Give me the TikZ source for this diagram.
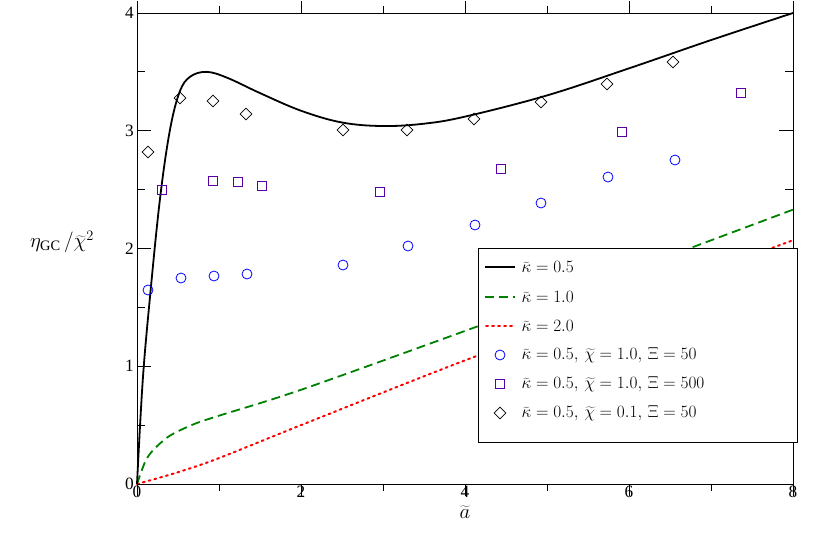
\documentclass[tikz,border=0pt]{standalone}
\usepackage{fontspec}
\setmainfont{Liberation Serif}
\usetikzlibrary{shapes.geometric}
\begin{document}
\begin{tikzpicture}[x=1pt,y=-1pt,every node/.style={font=\LARGE},
 circ/.style={draw=blue,thick,circle,inner sep=0pt,minimum size=10pt},
 sqr/.style={draw=violet!70!blue,thick,rectangle,inner sep=0pt,minimum size=9pt},
 dia/.style={draw=black,thick,diamond,inner sep=0pt,minimum size=12pt},
 lblack/.style={black,line width=1.8pt},
 lgreen/.style={green!50!black,line width=1.8pt,dash pattern=on 9pt off 5pt},
 lred/.style={red,line width=2pt,dash pattern=on 2pt off 4pt,line cap=round}]
\useasboundingbox (0,0) rectangle (830,536);
\begin{scope}[shift={(137,484)},xscale=82,yscale=-117.75]
 \draw[lred] plot[smooth] coordinates {(0,0)(0.5,0.1)(1,0.22)(2,0.5)(4,1.05)(6,1.56)(8,2.07)};
 \draw[lgreen] plot[smooth] coordinates {(0,0)(0.1,0.19)(0.2,0.29)(0.4,0.41)(0.7,0.51)(1,0.58)(2,0.8)(4,1.3)(6,1.81)(8,2.33)};
 \draw[lblack] plot[smooth,tension=0.6] coordinates {(0,0)(0.07,0.88)(0.16,1.6)(0.28,2.42)(0.4,3.0)(0.52,3.33)(0.65,3.46)(0.85,3.5)(1.1,3.45)(1.5,3.32)(2,3.17)(2.5,3.07)(3,3.04)(3.5,3.06)(4,3.12)(5,3.3)(6,3.53)(7,3.77)(8,4.0)};
 \foreach \i in {0,...,8}{\draw[thick] (\i,0) -- ++(0,-0.06); \draw[thick] (\i,4) -- ++(0,0.06);}
 \foreach \i in {0,2,...,8}{\draw[thick] (\i,0) -- ++(0,-0.1); \draw[thick] (\i,4) -- ++(0,0.1);
   \node[below,inner sep=2pt] at (\i,0) {\i};}
 \foreach \j in {0,0.5,...,4}{\draw[thick] (0,\j) -- ++(0.1,0); \draw[thick] (8,\j) -- ++(-0.1,0);}
 \foreach \j in {0,...,4}{\draw[thick] (0,\j) -- ++(0.17,0); \draw[thick] (8,\j) -- ++(-0.17,0);
   \node[left,inner sep=3pt] at (0,\j) {\j};}
 \draw[thick] (0,0) rectangle (8,4);
\end{scope}
\foreach \x/\y [count=\k] in {148/152,180/98,213/101,246/114,343/130,407/130,474/119,541/102,607/84,673/62}
 \node[dia] (d\k) at (\x,\y) {};
\foreach \x/\y [count=\k] in {162/190,213/181,238/182,262/186,380/192,501/169,622/132,741/93}
 \node[sqr] (s\k) at (\x,\y) {};
\foreach \x/\y [count=\k] in {148/290,181/278,214/276,247/274,343/265,408/246,475/225,541/203,608/177,675/160}
 \node[circ] (c\k) at (\x,\y) {};
\draw[fill=white,line width=1pt] (478,248) rectangle (797,442);
\draw[lblack] (485,267) -- (515,267); \node[anchor=west] (l1) at (518,267) {$\widetilde{\kappa}=0.5$};
\draw[lgreen] (485,297) -- (515,297); \node[anchor=west] (l2) at (518,297) {$\widetilde{\kappa}=1.0$};
\draw[lred] (486,326) -- (515,326); \node[anchor=west] (l3) at (518,326) {$\widetilde{\kappa}=2.0$};
\node[circ] (lc) at (500,355) {}; \node[anchor=west] (l4) at (518,355) {$\widetilde{\kappa}=0.5,\,\widetilde{\chi}=1.0,\,\Xi=50$};
\node[sqr] (ls) at (500,384) {}; \node[anchor=west] (l5) at (518,384) {$\widetilde{\kappa}=0.5,\,\widetilde{\chi}=1.0,\,\Xi=500$};
\node[dia] (ld) at (500,413) {}; \node[anchor=west] (l6) at (518,413) {$\widetilde{\kappa}=0.5,\,\widetilde{\chi}=0.1,\,\Xi=50$};
\node[font=\huge] (ylab) at (62,242) {$\eta_{\mathrm{GC}}\,/\widetilde{\chi}^{2}$};
\node[font=\huge] (xlab) at (465,512) {$\widetilde{a}$};
\end{tikzpicture}
\end{document}
